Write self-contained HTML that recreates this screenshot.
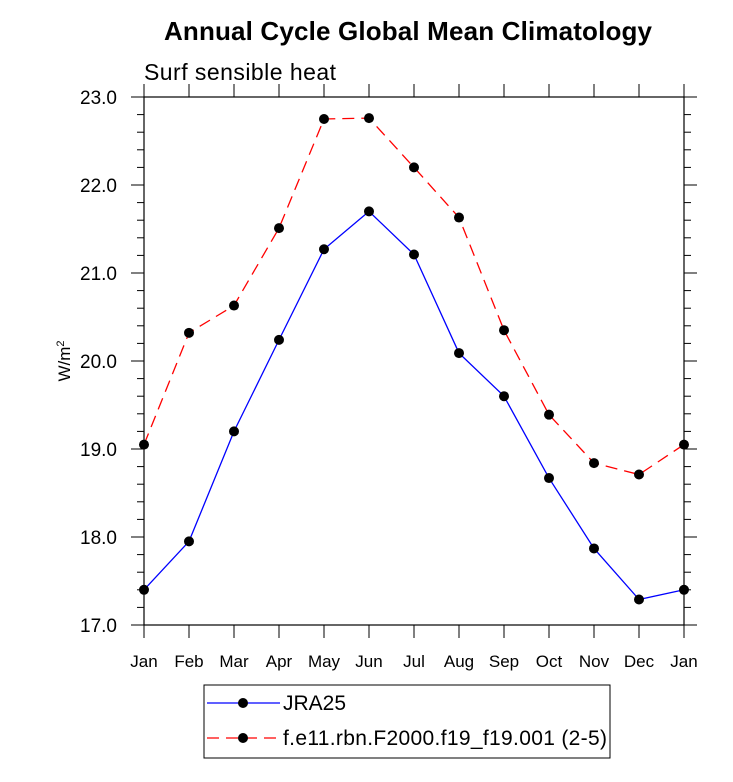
<!DOCTYPE html>
<html><head><meta charset="utf-8"><style>
body{margin:0;background:#fff;}
svg text{font-family:"Liberation Sans",Arial,sans-serif;}
</style></head><body>
<svg id="chart" width="733" height="777" viewBox="0 0 733 777" xmlns="http://www.w3.org/2000/svg">
<text x="408" y="40" text-anchor="middle" font-size="26" font-weight="bold" textLength="488">Annual Cycle Global Mean Climatology</text>
<text x="144" y="80" font-size="23" textLength="192">Surf sensible heat</text>
<text transform="translate(70,361) rotate(-90)" text-anchor="middle" font-size="17">W/m<tspan dy="-6" font-size="11">2</tspan></text>
<g id="axes"></g>
<g id="series"></g>
<g>
<rect x="204" y="685" width="406" height="73" fill="none" stroke="#000" stroke-width="1"/>
<g>
<line x1="207" y1="703" x2="280" y2="703" stroke="#00f" stroke-width="1.3"/>
<circle cx="243" cy="703" r="5" fill="#000"/>
<text x="283" y="710" font-size="21">JRA25</text></g>
<g>
<line x1="207" y1="738" x2="280" y2="738" stroke="#f00" stroke-width="1.3" stroke-dasharray="12,7"/>
<circle cx="243" cy="738" r="5" fill="#000"/>
<text x="283" y="745" font-size="21" textLength="324">f.e11.rbn.F2000.f19_f19.001 (2-5)</text></g>
</g>
</svg>
<script>
const months=["Jan","Feb","Mar","Apr","May","Jun","Jul","Aug","Sep","Oct","Nov","Dec","Jan"];
const jra25=[17.40,17.95,19.20,20.24,21.27,21.70,21.21,20.09,19.60,18.67,17.87,17.29,17.40];
const model=[19.05,20.32,20.63,21.51,22.75,22.76,22.20,21.63,20.35,19.39,18.84,18.71,19.05];
const yTicks=[17.0,18.0,19.0,20.0,21.0,22.0,23.0];
const NS="http://www.w3.org/2000/svg";
const L=144,R=684,T=97,B=625,yMin=17,yMax=23;
const xs=i=>L+(R-L)*i/(months.length-1);
const ys=v=>B-(v-yMin)/(yMax-yMin)*(B-T);
function mk(tag,at,parent){const e=document.createElementNS(NS,tag);for(const k in at)e.setAttribute(k,at[k]);parent.appendChild(e);return e;}
const ax=document.getElementById('axes'),sr=document.getElementById('series');
const frame=mk('rect',{x:L,y:T,width:R-L,height:B-T,fill:'none',stroke:'#000','stroke-width':1.2},ax);


for(let v=yMin;v<=yMax+1e-9;v+=0.2){
  const y=ys(v);const major=Math.abs(v-Math.round(v))<1e-6;const len=major?13:7;
  mk('line',{x1:L-len,y1:y,x2:L,y2:y,stroke:'#000','stroke-width':1},ax);
  mk('line',{x1:R,y1:y,x2:R+len,y2:y,stroke:'#000','stroke-width':1},ax);
}
yTicks.forEach(v=>{const t=mk('text',{x:L-27,y:ys(v)+7,'text-anchor':'end','font-size':19},ax);t.textContent=v.toFixed(1);

});
months.forEach((m,i)=>{const x=xs(i);
  mk('line',{x1:x,y1:B,x2:x,y2:B+13,stroke:'#000','stroke-width':1},ax);
  mk('line',{x1:x,y1:T-13,x2:x,y2:T,stroke:'#000','stroke-width':1},ax);
  const t=mk('text',{x:x,y:B+42,'text-anchor':'middle','font-size':17},ax);t.textContent=m;
  
  });
function draw(data,color,dash,name){
  const g=mk('g',{},sr);
  
  
  const p=mk('polyline',{points:data.map((v,i)=>xs(i)+','+ys(v)).join(' '),fill:'none',stroke:color,'stroke-width':1.3,'stroke-dasharray':dash},g);
  
  
  data.forEach((v,i)=>{const c=mk('circle',{cx:xs(i),cy:ys(v),r:5,fill:'#000'},g);
    
    });
}
draw(model,'#f00','12,7','model-series');
draw(jra25,'#00f','none','jra25-series');
</script>
</body></html>
